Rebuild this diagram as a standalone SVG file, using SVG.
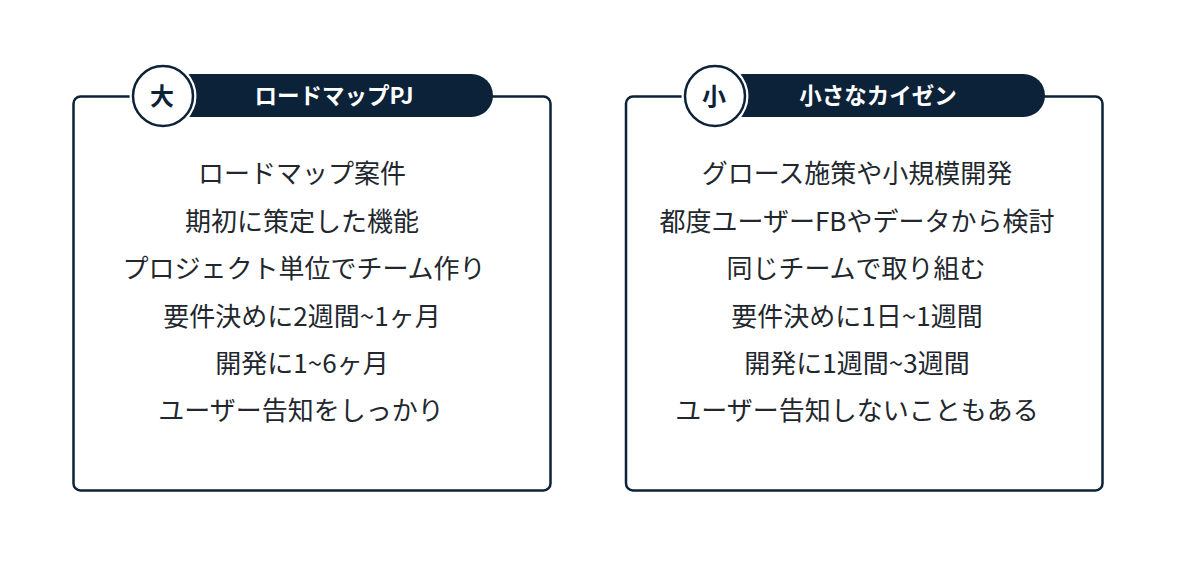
<svg xmlns="http://www.w3.org/2000/svg" width="1200" height="569" viewBox="0 0 1200 569">
  <style>
    .box { fill: #ffffff; stroke: #0c2238; stroke-width: 2.5; }
    .pill { fill: #0c2238; }
    .halo { fill: #ffffff; }
    .badge { fill: #ffffff; stroke: #0c2238; stroke-width: 2.5; }
    .badge-t { font-family: "Noto Sans CJK JP", "Noto Sans", sans-serif; font-size: 24px; font-weight: 700; fill: #0c2238; text-anchor: middle; }
    .title { font-family: "Noto Sans CJK JP", "Noto Sans", sans-serif; font-size: 22.5px; font-weight: 700; fill: #ffffff; text-anchor: middle; }
    .body { font-family: "Noto Sans CJK JP", "Noto Sans", sans-serif; font-size: 26px; fill: #22272e; text-anchor: middle; }
  </style>
  <rect width="1200" height="569" fill="#ffffff"/>

  <g id="panel-large">
    <rect class="box" x="73.5" y="96.5" width="477" height="394" rx="7"/>
    <rect class="pill" x="170" y="74" width="323" height="43" rx="21.5"/>
    <circle class="halo" cx="163" cy="96" r="33.5"/>
    <circle class="badge" cx="163" cy="96" r="30"/>
    <text class="badge-t" x="162" y="104.5">大</text>
    <text class="title" x="334" y="103.5">ロードマップPJ</text>
    <text class="body" x="302" y="183">ロードマップ案件</text>
    <text class="body" x="302" y="230.5">期初に策定した機能</text>
    <text class="body" x="304" y="278">プロジェクト単位でチーム作り</text>
    <text class="body" x="302" y="325.5">要件決めに2週間~1ヶ月</text>
    <text class="body" x="302" y="373">開発に1~6ヶ月</text>
    <text class="body" x="301" y="420">ユーザー告知をしっかり</text>
  </g>

  <g id="panel-small">
    <rect class="box" x="626" y="96.5" width="476.5" height="394" rx="7"/>
    <rect class="pill" x="722" y="74" width="323" height="43" rx="21.5"/>
    <circle class="halo" cx="715" cy="96" r="33.5"/>
    <circle class="badge" cx="715" cy="96" r="30"/>
    <text class="badge-t" x="714" y="104.5">小</text>
    <text class="title" x="878" y="103.5">小さなカイゼン</text>
    <text class="body" x="857" y="183">グロース施策や小規模開発</text>
    <text class="body" x="857" y="230.5">都度ユーザーFBやデータから検討</text>
    <text class="body" x="856" y="278">同じチームで取り組む</text>
    <text class="body" x="857" y="325.5">要件決めに1日~1週間</text>
    <text class="body" x="857" y="373">開発に1週間~3週間</text>
    <text class="body" x="857" y="420">ユーザー告知しないこともある</text>
  </g>

  <g id="connectors"></g>
</svg>
